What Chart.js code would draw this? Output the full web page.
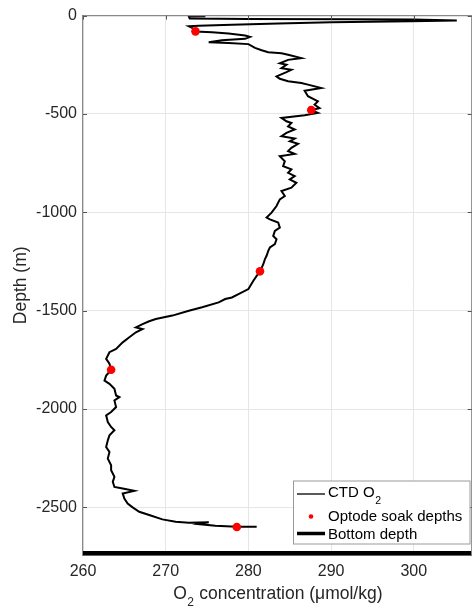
<!DOCTYPE html>
<html>
<head>
<meta charset="utf-8">
<script src="https://cdn.jsdelivr.net/npm/chart.js@4.4.1/dist/chart.umd.min.js"></script>
<style>
html,body{margin:0;padding:0;background:#fff;overflow:hidden;}
canvas{display:block;}
</style>
</head>
<body>
<canvas id="c" width="476" height="610"></canvas>
<script>
// ---- data ----
const ctdO2 = [274.8,272.8,272.9,280.0,292.0,300.0,305.2,299.6,290.0,283.6,278.0,274.0,272.8,273.2,273.6,275.6,277.6,279.6,280.2,279.6,276.8,275.2,277.6,280.0,280.8,281.6,282.4,284.0,284.8,286.4,284.8,283.8,284.6,284.0,285.2,284.6,283.4,283.8,284.8,286.4,287.2,288.8,286.8,287.2,288.0,288.4,288.0,288.6,287.6,288.4,286.8,284.0,284.6,285.2,284.8,285.6,284.6,284.0,285.6,285.0,286.0,285.2,284.8,285.6,283.8,284.4,284.2,285.2,284.8,285.6,285.0,285.8,285.2,284.0,284.4,283.8,283.6,283.4,282.8,282.2,282.6,283.6,283.8,283.2,283.0,283.4,283.2,282.6,282.4,282.2,282.0,281.8,281.4,281.0,280.6,280.0,278.8,278.0,277.2,276.4,274.4,272.8,270.8,268.8,268.0,267.2,266.4,267.2,266.4,265.6,264.8,264.0,263.2,262.8,263.2,263.4,262.8,262.6,263.2,263.8,264.0,264.4,263.8,264.0,263.4,262.8,263.0,263.4,263.8,263.2,263.0,262.8,263.2,263.0,263.4,263.4,263.8,263.6,263.8,264.8,266.2,264.8,265.0,265.4,266.0,266.8,268.0,269.6,271.2,272.8,275.2,274.0,276.0,278.6,281.0];
const ctdDepth = [-3,-5,-15,-17,-18,-20,-25,-29,-34,-40,-46,-51,-54,-62,-81,-85,-91,-101,-108,-118,-125,-135,-139,-145,-164,-176,-186,-191,-199,-216,-225,-242,-250,-267,-275,-287,-309,-321,-334,-343,-351,-368,-382,-410,-427,-436,-453,-470,-481,-495,-507,-520,-537,-546,-563,-579,-596,-613,-625,-639,-652,-672,-689,-703,-715,-740,-765,-782,-799,-816,-833,-850,-875,-892,-917,-934,-951,-968,-1002,-1027,-1036,-1052,-1078,-1095,-1120,-1137,-1162,-1179,-1196,-1221,-1238,-1264,-1301,-1323,-1348,-1390,-1416,-1433,-1441,-1458,-1483,-1500,-1525,-1542,-1554,-1568,-1585,-1593,-1610,-1635,-1661,-1694,-1711,-1745,-1770,-1801,-1830,-1855,-1872,-1897,-1931,-1939,-1956,-1990,-2015,-2032,-2066,-2091,-2108,-2134,-2159,-2193,-2218,-2252,-2286,-2311,-2345,-2370,-2396,-2404,-2416,-2429,-2455,-2480,-2500,-2522,-2539,-2561,-2573,-2578,-2575,-2585,-2593,-2598,-2598];
const optodeDepth = [-80,-480,-1300,-1800,-2600];
const optodeO2 = [273.6,287.6,281.4,263.4,278.6];
const bottomDepth = -2732;
const xRange = [260, 307];
const yRange = [-2742, 0];
const xTicks = [260,270,280,290,300];
const yTicks = [0,-500,-1000,-1500,-2000,-2500];
const seriesNames = ['CTD O', 'Optode soak depths', 'Bottom depth'];
const xTitleMain = 'O';
const xTitleSub = '2';
const xTitleRest = ' concentration (\u03BCmol/kg)';
const yTitle = 'Depth (m)';

// ---- build ----
const FONT = "'Liberation Sans', Arial, Helvetica, sans-serif";
const TXT = '#262626';
const n = Math.min(ctdO2.length, ctdDepth.length);
const ctdPts = [];
for (let i=0;i<n;i++) ctdPts.push({x:ctdO2[i], y:ctdDepth[i]});
const optPts = optodeDepth.map((d,i)=>({x:optodeO2[i], y:d}));
const botPts = xRange.map(x=>({x:x, y:bottomDepth}));

const decor = {
  id:'decor',
  afterDraw(chart){
    const ctx = chart.ctx, a = chart.chartArea;
    const xs = chart.scales.x, ys = chart.scales.y;
    ctx.save();
    // top / right spines
    ctx.strokeStyle = '#8a8a8a'; ctx.lineWidth = 1.2;
    ctx.beginPath(); ctx.moveTo(a.left, a.top); ctx.lineTo(a.right+2, a.top); ctx.stroke();
    ctx.beginPath(); ctx.moveTo(a.right, a.top); ctx.lineTo(a.right, a.bottom); ctx.stroke();
    // inward ticks
    ctx.strokeStyle = '#555'; ctx.lineWidth = 1;
    xTicks.forEach(v=>{const p=Math.round(xs.getPixelForValue(v))+0.5;
      ctx.beginPath(); ctx.moveTo(p,a.top); ctx.lineTo(p,a.top+4); ctx.stroke();});
    yTicks.forEach(v=>{const p=Math.round(ys.getPixelForValue(v))+0.5;
      ctx.beginPath(); ctx.moveTo(a.left,p); ctx.lineTo(a.left+4,p); ctx.stroke();
      ctx.beginPath(); ctx.moveTo(a.right,p); ctx.lineTo(a.right-4,p); ctx.stroke();});
    // x title
    ctx.fillStyle = TXT; ctx.textBaseline = 'alphabetic'; ctx.textAlign = 'left';
    const big = "17.5px " + FONT, small = "12px " + FONT;
    ctx.font = big; const w1 = ctx.measureText(xTitleMain).width, w3 = ctx.measureText(xTitleRest).width;
    ctx.font = small; const w2 = ctx.measureText(xTitleSub).width;
    const tot = w1+w2+w3; let x0 = (a.left+a.right)/2 - tot/2;
    ctx.font = big; ctx.fillText(xTitleMain, x0, 598.5);
    ctx.font = small; ctx.fillText(xTitleSub, x0+w1+0.5, 606);
    ctx.font = big; ctx.fillText(xTitleRest, x0+w1+w2+1, 598.5);
    // y title
    ctx.save(); ctx.translate(26, (a.top+a.bottom)/2); ctx.rotate(-Math.PI/2);
    ctx.textAlign = 'center'; ctx.font = big; ctx.fillText(yTitle, 0, 0); ctx.restore();
    // legend
    const L=293.5, T=481, R=470, B=544;
    ctx.fillStyle='#fff'; ctx.fillRect(L,T,R-L,B-T);
    ctx.strokeStyle='#9a9a9a'; ctx.lineWidth=1; ctx.strokeRect(L,T,R-L,B-T);
    ctx.strokeStyle='#000';
    ctx.lineWidth=1.3; ctx.beginPath(); ctx.moveTo(297,494); ctx.lineTo(325,494); ctx.stroke();
    ctx.fillStyle='#ff0000'; ctx.beginPath(); ctx.arc(311,516.5,2.3,0,Math.PI*2); ctx.fill();
    ctx.lineWidth=3.5; ctx.beginPath(); ctx.moveTo(297,533.5); ctx.lineTo(325,533.5); ctx.stroke();
    ctx.fillStyle='#000'; ctx.textAlign='left';
    const lf = "15px " + FONT;
    ctx.font = lf; ctx.fillText(seriesNames[0], 328, 497);
    const wc = ctx.measureText(seriesNames[0]).width;
    ctx.font = "10.5px " + FONT; ctx.fillText('2', 328+wc+0.5, 503.5);
    ctx.font = lf; ctx.fillText(seriesNames[1], 328, 520.5);
    ctx.fillText(seriesNames[2], 328, 538.5);
    ctx.restore();
  }
};

new Chart(document.getElementById('c'), {
  type:'scatter',
  data:{datasets:[
    {label:seriesNames[0]+'2', data:ctdPts, showLine:true, borderColor:'#000', backgroundColor:'#000', borderWidth:2, pointRadius:0, tension:0, order:2},
    {label:seriesNames[1], data:optPts, showLine:false, backgroundColor:'#ff0000', borderColor:'#ff0000', pointRadius:4.3, pointBorderWidth:0, order:1},
    {label:seriesNames[2], data:botPts, showLine:true, borderColor:'#000', borderWidth:4.2, pointRadius:0, clip:false, order:0}
  ]},
  options:{
    responsive:false, animation:false, devicePixelRatio:1,
    layout:{padding:{left:0, right:1.3, top:14, bottom:0}},
    plugins:{legend:{display:false}, tooltip:{enabled:false}},
    scales:{
      x:{type:'linear', min:xRange[0], max:xRange[1],
        afterFit(s){s.height=55;},
        afterBuildTicks(s){s.ticks = xTicks.map(v=>({value:v}));},
        ticks:{callback:v=>String(v), color:TXT, font:{family:FONT,size:16}, padding:7, maxRotation:0, autoSkip:false},
        grid:{color:'#e6e6e6', drawTicks:false, lineWidth:1},
        border:{display:true, color:'#8a8a8a', width:1}},
      y:{type:'linear', min:yRange[0], max:yRange[1],
        afterFit(s){s.width=83;},
        afterBuildTicks(s){s.ticks = yTicks.map(v=>({value:v}));},
        ticks:{callback:v=>String(v), color:TXT, font:{family:FONT,size:16}, padding:6, autoSkip:false},
        grid:{color:'#e6e6e6', drawTicks:false, lineWidth:1},
        border:{display:true, color:'#8a8a8a', width:1.2}}
    }
  },
  plugins:[decor]
});
</script>
</body>
</html>
